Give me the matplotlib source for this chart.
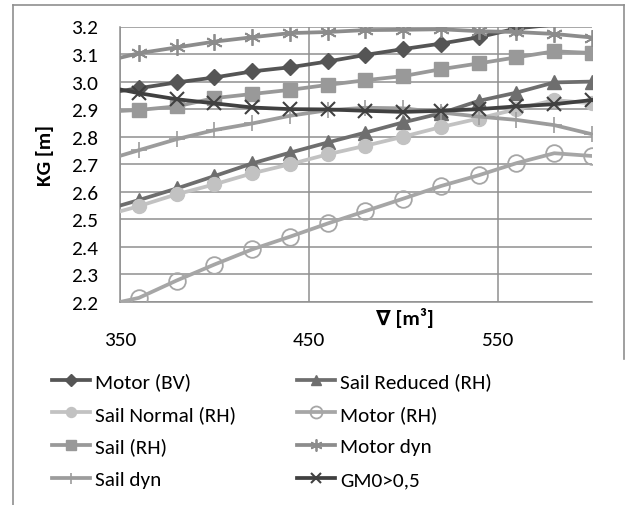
import matplotlib
matplotlib.use("Agg")
import matplotlib.pyplot as plt
from matplotlib.lines import Line2D
import numpy as np

plt.rcParams['font.family'] = ['Carlito', 'Liberation Sans Narrow', 'Liberation Sans', 'DejaVu Sans']

volume = [340, 360, 380, 400, 420, 440, 460, 480, 500, 520, 540, 560, 580, 600]

motor_bv      = [2.955, 2.976, 2.997, 3.015, 3.037, 3.052, 3.073, 3.097, 3.118, 3.138, 3.161, 3.193, 3.207, 3.220]
sail_reduced  = [2.530, 2.570, 2.612, 2.657, 2.703, 2.742, 2.779, 2.815, 2.852, 2.885, 2.930, 2.960, 2.997, 3.000]
sail_normal   = [2.510, 2.548, 2.591, 2.627, 2.667, 2.700, 2.736, 2.767, 2.800, 2.835, 2.866, 2.900, 2.933, 2.921]
motor_rh      = [2.185, 2.215, 2.278, 2.336, 2.391, 2.437, 2.485, 2.530, 2.575, 2.621, 2.660, 2.704, 2.740, 2.730]
sail_rh       = [2.890, 2.897, 2.910, 2.940, 2.955, 2.970, 2.988, 3.005, 3.020, 3.045, 3.066, 3.088, 3.110, 3.104]
motor_dyn     = [3.070, 3.103, 3.124, 3.145, 3.161, 3.176, 3.180, 3.187, 3.188, 3.190, 3.183, 3.180, 3.173, 3.160]
sail_dyn      = [2.710, 2.751, 2.791, 2.824, 2.848, 2.876, 2.896, 2.905, 2.903, 2.888, 2.873, 2.861, 2.842, 2.809]
gm0           = [2.985, 2.958, 2.936, 2.921, 2.906, 2.900, 2.899, 2.894, 2.890, 2.894, 2.900, 2.910, 2.918, 2.933]

y_ticks = [2.2, 2.3, 2.4, 2.5, 2.6, 2.7, 2.8, 2.9, 3.0, 3.1, 3.2]
x_ticks = [350, 450, 550]
xlim = (350, 600)
ylim = (2.2, 3.2)

series = [
    ("Motor (BV)",        motor_bv,     dict(color="#555555", marker="D", ms=8,  mfc="#555555", mec="#555555")),
    ("Sail Reduced (RH)", sail_reduced, dict(color="#6e6e6e", marker="^", ms=10, mfc="#6e6e6e", mec="#6e6e6e")),
    ("Sail Normal (RH)",  sail_normal,  dict(color="#c2c2c2", marker="o", ms=10, mfc="#c2c2c2", mec="#c2c2c2")),
    ("Motor (RH)",        motor_rh,     dict(color="#a6a6a6", marker="o", ms=12, mfc="none", mec="#a6a6a6", mew=1.3)),
    ("Sail (RH)",         sail_rh,      dict(color="#999999", marker="s", ms=10, mfc="#999999", mec="#999999")),
    ("Motor dyn",         motor_dyn,    dict(color="#8c8c8c", marker=(6, 2, 0), ms=12, mec="#8c8c8c", mew=1.3)),
    ("Sail dyn",          sail_dyn,     dict(color="#9c9c9c", marker="+", ms=11, mec="#9c9c9c", mew=1.2)),
    ("GM0>0,5",           gm0,          dict(color="#404040", marker="x", ms=10, mec="#404040", mew=1.5)),
]

fig = plt.figure(figsize=(6.27, 5.06), dpi=100)
ax = fig.add_axes([120/627, 1-303/506, 472/627, 275.5/506])

x = np.array(volume)
handles = {}
for i, (name, vals, st) in enumerate(series):
    v = np.array(vals)
    mask = list((x >= xlim[0]) & (x <= xlim[1]) & (v <= ylim[1]) & (v >= ylim[0]))
    ln, = ax.plot(x, v, lw=2.7, markevery=mask, zorder=3 + i, label=name, **st)
    handles[name] = ln

FS = 15.3
ax.set_xlim(*xlim)
ax.set_ylim(*ylim)
ax.set_yticks(y_ticks)
ax.set_yticklabels([f"{t:.1f}" for t in y_ticks])
ax.set_xticks(x_ticks)
ax.grid(True, color="#8f8f8f", lw=1.1, zorder=0)
ax.set_axisbelow(True)
for s in ["top", "right"]:
    ax.spines[s].set_visible(False)
for s in ["left", "bottom"]:
    ax.spines[s].set_color("#8f8f8f")
    ax.spines[s].set_linewidth(1.1)
ax.tick_params(axis="both", length=0, labelsize=FS)
ax.tick_params(axis="y", pad=16)
ax.tick_params(axis="x", pad=21)

ax.text((405-120)/472, -(318-303)/275.5, "\u2207 [m\u00b3]", transform=ax.transAxes,
        ha="center", va="center", fontsize=FS, fontweight="bold",
        family=['Carlito', 'Liberation Sans', 'DejaVu Sans'])
ax.text((45-120)/472, 1-(156-27.5)/275.5, "KG [m]", transform=ax.transAxes,
        ha="center", va="center", fontsize=FS, fontweight="bold", rotation=90)

# outer chart border
fig.add_artist(Line2D([13/627, 13/627], [0, 1-6/506], transform=fig.transFigure, color="#8f8f8f", lw=1.2))
fig.add_artist(Line2D([13/627, 624/627], [1-6/506, 1-6/506], transform=fig.transFigure, color="#8f8f8f", lw=1.2))
fig.add_artist(Line2D([624/627, 624/627], [1-6/506, 1-360/506], transform=fig.transFigure, color="#8f8f8f", lw=1.2))

col1 = ["Motor (BV)", "Sail Normal (RH)", "Sail (RH)", "Sail dyn"]
col2 = ["Sail Reduced (RH)", "Motor (RH)", "Motor dyn", "GM0>0,5"]
legkw = dict(frameon=False, fontsize=FS, handlelength=1.8, handletextpad=0.22,
             labelspacing=0.7, borderpad=0, borderaxespad=0, markerscale=0.72)
leg1 = fig.legend([handles[n] for n in col1], col1, loc="upper left",
                  bbox_to_anchor=(52/627, 1-373/506), **legkw)
leg2 = fig.legend([handles[n] for n in col2], col2, loc="upper left",
                  bbox_to_anchor=(297/627, 1-373/506), **legkw)

fig.savefig("out.png", dpi=100)
